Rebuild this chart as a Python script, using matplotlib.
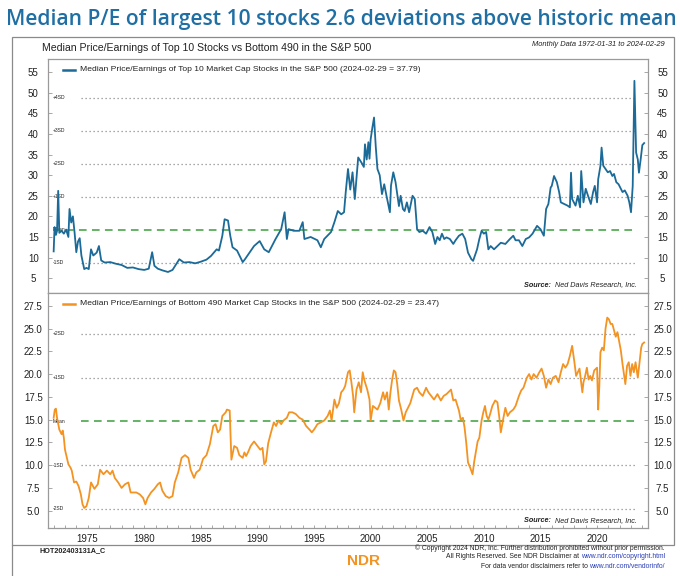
import matplotlib
matplotlib.use("Agg")
import matplotlib.pyplot as plt
import numpy as np
from matplotlib.lines import Line2D
from matplotlib.patches import Rectangle

# palette
BLUE = "#1b6a97"
ORANGE = "#f39322"
GREEN = "#3b9e3b"
GRID = "#8c8c8c"
AXIS = "#9a9a9a"
INK = "#222222"
TITLE = "#1f6fa5"
LINK = "#2b3fb5"

plt.rcParams["font.family"] = ["Liberation Sans Narrow", "Liberation Sans", "DejaVu Sans"]

# --- data (decimal year, P/E) ---
top_years = [
    1972.0, 1972.08, 1972.2, 1972.3, 1972.4, 1972.5, 1972.7, 1972.9, 1973.1, 1973.3,
    1973.4, 1973.55, 1973.7, 1973.85, 1974.0, 1974.15, 1974.3, 1974.45, 1974.7, 1974.9,
    1975.1, 1975.3, 1975.5, 1975.8, 1976.0, 1976.2, 1976.5, 1977.0, 1977.5, 1978.0,
    1978.5, 1979.0, 1979.5, 1980.0, 1980.4, 1980.7, 1980.9, 1981.2, 1981.6, 1982.1,
    1982.5, 1983.1, 1983.5, 1984.0, 1984.5, 1985.0, 1985.5, 1985.9, 1986.4, 1986.6,
    1986.9, 1987.1, 1987.4, 1987.6, 1987.8, 1988.2, 1988.7, 1988.9, 1989.1, 1989.7,
    1990.2, 1990.6, 1991.0, 1991.6, 1992.1, 1992.4, 1992.6, 1992.75, 1993.2, 1993.7,
    1994.0, 1994.15, 1994.7, 1995.3, 1995.6, 1995.9, 1996.5, 1996.8, 1997.1, 1997.4,
    1997.65, 1997.8, 1998.0, 1998.2, 1998.4, 1998.6, 1998.9, 1999.2, 1999.4, 1999.5,
    1999.65, 1999.8, 1999.9, 2000.0, 2000.15, 2000.3, 2000.45, 2000.6, 2000.8, 2001.0,
    2001.2, 2001.4, 2001.7, 2001.8, 2002.0, 2002.2, 2002.5, 2002.65, 2002.85, 2003.0,
    2003.2, 2003.4, 2003.7, 2003.9, 2004.1, 2004.3, 2004.6, 2004.9, 2005.2, 2005.45,
    2005.7, 2005.9, 2006.1, 2006.3, 2006.5, 2006.7, 2007.0, 2007.3, 2007.5, 2007.8,
    2008.1, 2008.35, 2008.6, 2008.9, 2009.05, 2009.4, 2009.6, 2009.8, 2010.0, 2010.2,
    2010.4, 2010.6, 2010.9, 2011.2, 2011.5, 2011.9, 2012.3, 2012.6, 2012.8, 2013.1,
    2013.4, 2013.7, 2014.0, 2014.3, 2014.7, 2015.0, 2015.3, 2015.5, 2015.7, 2015.9,
    2016.0, 2016.2, 2016.45, 2016.65, 2016.8, 2017.1, 2017.4, 2017.6, 2017.7, 2017.8,
    2018.1, 2018.3, 2018.5, 2018.6, 2018.8, 2019.0, 2019.2, 2019.45, 2019.65, 2019.8,
    2020.0, 2020.1, 2020.3, 2020.4, 2020.55, 2020.75, 2020.95, 2021.15, 2021.35, 2021.5,
    2021.7, 2021.9, 2022.05, 2022.25, 2022.45, 2022.7, 2022.85, 2023.0, 2023.15, 2023.3,
    2023.45, 2023.6, 2023.7, 2023.85, 2024.0, 2024.16,
]
top_pe = [
    11.5, 17.4, 15.5, 16.5, 26.2, 16.0, 16.5, 15.8, 16.8, 15.0,
    21.8, 18.5, 20.0, 16.0, 11.3, 13.9, 14.7, 10.5, 7.2, 7.5,
    7.2, 12.0, 10.5, 11.2, 12.8, 9.3, 8.8, 8.9, 8.5, 8.2,
    7.5, 7.6, 7.2, 7.0, 7.3, 11.3, 8.0, 7.3, 6.9, 6.5,
    7.0, 9.6, 8.8, 8.9, 8.6, 9.0, 9.5, 10.4, 12.0, 11.7,
    15.3, 19.3, 19.0, 15.3, 12.5, 11.7, 8.9, 9.6, 10.4, 12.8,
    14.0, 12.0, 11.3, 14.5, 16.9, 21.0, 14.5, 16.9, 16.5, 16.5,
    18.6, 14.5, 15.0, 14.2, 12.5, 14.5, 16.2, 18.6, 21.3, 20.5,
    21.0, 25.9, 31.5, 26.5, 30.7, 24.2, 34.3, 33.0, 32.0, 37.5,
    33.8, 38.0, 34.0, 38.7, 41.5, 44.0, 37.0, 31.5, 30.0, 25.4,
    27.8, 25.0, 21.0, 27.5, 30.7, 28.3, 22.5, 25.0, 21.8, 21.3,
    23.4, 21.0, 25.0, 24.2, 16.9, 16.2, 16.5, 15.8, 17.4, 16.2,
    13.3, 15.0, 14.2, 15.8, 14.5, 14.9, 14.5, 13.3, 14.2, 15.3,
    15.8, 14.5, 11.2, 9.6, 9.2, 12.0, 14.5, 16.5, 15.8, 16.2,
    12.0, 12.8, 12.0, 12.8, 13.6, 13.3, 14.5, 15.3, 14.2, 14.2,
    12.8, 14.5, 14.9, 15.8, 17.7, 16.9, 15.3, 21.8, 23.0, 27.0,
    27.4, 29.8, 28.3, 25.9, 23.4, 23.0, 22.6, 22.2, 30.6, 24.2,
    22.6, 25.0, 22.2, 31.0, 23.4, 26.7, 25.0, 23.0, 25.9, 27.4,
    23.4, 29.0, 32.3, 36.7, 32.3, 31.5, 30.7, 31.0, 29.8, 30.3,
    28.3, 27.8, 27.0, 25.9, 26.3, 25.0, 23.4, 21.0, 27.4, 52.9,
    35.5, 33.8, 30.6, 33.8, 37.3, 37.79,
]

bot_years = [
    1972.0, 1972.1, 1972.2, 1972.3, 1972.5, 1972.7, 1972.8, 1972.9, 1973.0, 1973.3,
    1973.5, 1973.6, 1973.8, 1974.0, 1974.2, 1974.4, 1974.55, 1974.7, 1974.9, 1975.1,
    1975.3, 1975.6, 1975.9, 1976.1, 1976.4, 1976.7, 1977.0, 1977.2, 1977.4, 1977.7,
    1978.0, 1978.3, 1978.6, 1978.8, 1979.3, 1979.6, 1979.9, 1980.1, 1980.3, 1980.6,
    1980.9, 1981.2, 1981.4, 1981.6, 1981.9, 1982.2, 1982.5, 1982.7, 1983.0, 1983.3,
    1983.6, 1983.9, 1984.1, 1984.4, 1984.6, 1984.9, 1985.2, 1985.5, 1985.8, 1986.1,
    1986.3, 1986.5, 1986.7, 1986.9, 1987.2, 1987.3, 1987.55, 1987.7, 1987.95, 1988.2,
    1988.4, 1988.7, 1988.85, 1989.0, 1989.2, 1989.4, 1989.7, 1990.0, 1990.25, 1990.45,
    1990.6, 1990.75, 1990.95, 1991.2, 1991.45, 1991.65, 1991.85, 1992.1, 1992.3, 1992.6,
    1992.8, 1993.1, 1993.4, 1993.7, 1994.0, 1994.3, 1994.6, 1994.8, 1995.0, 1995.3,
    1995.6, 1995.9, 1996.2, 1996.4, 1996.55, 1996.8, 1997.0, 1997.2, 1997.4, 1997.6,
    1997.75, 1998.0, 1998.15, 1998.3, 1998.45, 1998.55, 1998.75, 1998.95, 1999.15, 1999.3,
    1999.45, 1999.7, 1999.9, 2000.0, 2000.2, 2000.4, 2000.6, 2000.85, 2001.1, 2001.25,
    2001.45, 2001.6, 2001.75, 2001.9, 2002.05, 2002.2, 2002.35, 2002.5, 2002.7, 2002.9,
    2003.1, 2003.3, 2003.5, 2003.85, 2004.1, 2004.3, 2004.6, 2004.9, 2005.1, 2005.35,
    2005.6, 2005.9, 2006.2, 2006.45, 2006.7, 2007.1, 2007.3, 2007.5, 2007.8, 2007.95,
    2008.15, 2008.3, 2008.45, 2008.6, 2008.8, 2009.0, 2009.15, 2009.3, 2009.45, 2009.6,
    2009.8, 2009.95, 2010.1, 2010.25, 2010.4, 2010.55, 2010.75, 2011.0, 2011.2, 2011.35,
    2011.5, 2011.7, 2011.9, 2012.1, 2012.3, 2012.6, 2012.8, 2013.1, 2013.3, 2013.5,
    2013.8, 2014.0, 2014.2, 2014.4, 2014.65, 2014.9, 2015.1, 2015.3, 2015.5, 2015.7,
    2015.9, 2016.1, 2016.35, 2016.6, 2016.8, 2017.0, 2017.2, 2017.4, 2017.6, 2017.8,
    2018.0, 2018.15, 2018.3, 2018.45, 2018.7, 2018.8, 2018.95, 2019.1, 2019.25, 2019.4,
    2019.55, 2019.75, 2020.0, 2020.1, 2020.2, 2020.3, 2020.45, 2020.6, 2020.75, 2020.9,
    2021.05, 2021.2, 2021.35, 2021.5, 2021.65, 2021.8, 2021.95, 2022.1, 2022.25, 2022.4,
    2022.5, 2022.65, 2022.8, 2022.95, 2023.1, 2023.25, 2023.4, 2023.6, 2023.75, 2023.9,
    2024.0, 2024.16,
]
bot_pe = [
    15.2, 16.1, 16.2, 15.2, 13.9, 13.4, 13.8, 13.0, 11.7, 10.1,
    9.7, 9.4, 8.1, 8.2, 7.7, 6.8, 5.7, 5.3, 5.5, 6.4,
    8.1, 7.4, 7.9, 9.5, 9.0, 9.4, 9.0, 9.4, 8.6, 8.1,
    7.5, 7.9, 8.1, 7.0, 7.0, 6.8, 6.4, 5.7, 6.4, 7.0,
    7.4, 7.9, 8.1, 7.2, 6.6, 6.4, 6.6, 8.1, 9.2, 10.8,
    11.1, 10.8, 9.5, 8.6, 9.2, 9.5, 10.7, 11.1, 12.3, 14.3,
    14.5, 13.6, 13.9, 15.4, 15.8, 16.1, 16.0, 10.6, 12.1, 11.9,
    11.1, 10.8, 11.4, 11.0, 11.5, 12.1, 12.6, 12.1, 11.7, 11.9,
    10.1, 10.4, 12.4, 13.6, 14.7, 14.3, 14.9, 14.5, 14.9, 15.2,
    15.8, 15.8, 15.6, 15.2, 15.0, 14.3, 13.9, 13.6, 13.9, 14.5,
    14.7, 14.9, 15.4, 16.0, 14.9, 17.2, 16.3, 16.8, 18.0, 18.3,
    18.7, 20.2, 20.4, 19.1, 17.6, 15.8, 18.3, 19.1, 18.0, 20.2,
    19.3, 18.3, 17.2, 14.9, 16.5, 16.3, 16.1, 16.8, 18.0, 17.2,
    18.0, 16.1, 18.0, 19.4, 20.4, 20.2, 18.9, 17.1, 16.1, 14.9,
    15.8, 16.3, 16.8, 18.3, 18.5, 18.0, 17.6, 18.5, 18.0, 17.6,
    17.2, 17.8, 17.1, 17.6, 17.8, 18.3, 17.1, 17.2, 16.0, 15.0,
    15.2, 14.1, 12.4, 10.3, 9.7, 9.0, 10.4, 11.5, 12.6, 13.0,
    14.9, 15.8, 16.5, 15.4, 15.0, 15.6, 16.5, 17.1, 16.9, 15.4,
    13.6, 15.0, 16.3, 15.4, 15.8, 16.1, 16.5, 17.6, 18.2, 18.5,
    19.6, 20.0, 19.4, 20.0, 19.6, 20.2, 20.6, 19.8, 18.5, 19.4,
    18.9, 19.6, 19.8, 19.1, 20.2, 21.1, 20.7, 21.1, 22.0, 23.1,
    21.3, 19.8, 20.2, 20.6, 18.0, 19.1, 19.8, 20.7, 19.4, 19.8,
    19.3, 20.4, 20.7, 16.1, 18.7, 22.4, 22.9, 22.6, 25.0, 26.2,
    26.0, 25.5, 25.5, 24.8, 24.1, 24.6, 23.6, 22.6, 21.1, 19.8,
    18.9, 20.9, 21.3, 19.8, 21.1, 20.2, 21.3, 19.6, 21.3, 22.9,
    23.3, 23.47,
]

# mean / standard-deviation bands
top_mean, top_sd = 16.8, 8.0
bot_mean, bot_sd = 14.8, 4.8
top_bands = [4, 3, 2, 1, -1]
bot_bands = [2, 1, -1, -2]

W, H = 680, 576


def fx(x):
    return x / W


def fy(y):
    return 1 - y / H


def text_run(parts, x_right, y, fontsize, **kw):
    """右揃えで色違いの文字列を並べる (parts = [(text, color, extra kw), ...])"""
    r = fig.canvas.get_renderer()
    x = x_right
    for txt, color, extra in reversed(parts):
        t = fig.text(x, y, txt, fontsize=fontsize, color=color, ha="right",
                     va="center", **extra, **kw)
        bb = t.get_window_extent(renderer=r)
        x = x - bb.width / W


def panel(rect, years, pe, color, mean, sd, bands, ylim, yticks, yfmt,
          legend, mean_from, src_y):
    ax = fig.add_axes(rect)
    ax.set_xlim(1971.5, 2024.5)
    ax.set_ylim(*ylim)
    for k in bands:
        v = mean + k * sd
        ax.plot([1974.4, 2023.45], [v, v], color=GRID, lw=0.9,
                ls=(0, (1, 2.2)), zorder=1)
        ax.text(1971.95, v, f"{k:+d}SD", fontsize=3.6, color=INK,
                va="center", ha="left", zorder=1)
    ax.text(1971.95, mean, "Mean", fontsize=3.6, color=INK, va="center",
            ha="left", zorder=1)
    ax.plot([mean_from, 2023.45], [mean, mean], color=GREEN, lw=1.1,
            ls=(0, (5, 3.5)), zorder=2)
    ax.plot(years, pe, color=color, lw=1.3, zorder=3,
            solid_joinstyle="round")
    ax.set_yticks(yticks)
    ax.tick_params(axis="y", which="both", direction="in", left=True,
                   right=True, labelleft=True, labelright=True, length=3,
                   width=0.6, color=AXIS, labelsize=7, pad=10.5,
                   labelcolor=INK)
    for t in ax.yaxis.get_major_ticks():
        t.label1.set_ha("center")
        t.label2.set_ha("center")
    ax.set_yticklabels([yfmt.format(v) for v in yticks])
    for s in ax.spines.values():
        s.set_color(AXIS)
        s.set_linewidth(0.9)
    ax.add_line(Line2D([0.025, 0.045], [0.955, 0.955], color=color, lw=1.8,
                       transform=ax.transAxes))
    ax.text(0.053, 0.955, legend, transform=ax.transAxes, fontsize=6.1,
            color=INK, va="center", ha="left")
    # "Source:" と "Ned Davis Research, Inc." を右下に並べる
    text_run([("Source:  ", INK, {"fontweight": "bold", "style": "italic"}),
              ("Ned Davis Research, Inc.", INK, {"style": "italic"})],
             fx(637), fy(src_y), 5.2)
    return ax


fig = plt.figure(figsize=(W / 100, H / 100), dpi=100)
fig.patch.set_facecolor("white")

# outer frame
fig.add_artist(Rectangle((fx(12), fy(545)), fx(674) - fx(12), fy(37) - fy(545),
                         transform=fig.transFigure, fill=False,
                         edgecolor="#8a8a8a", lw=0.9))
fig.add_artist(Line2D([fx(12), fx(12)], [fy(545), 0], color="#8a8a8a",
                      lw=0.9, transform=fig.transFigure))

fig.text(fx(341), fy(19), "Median P/E of largest 10 stocks 2.6 deviations above historic mean",
         fontsize=15.1, color=TITLE, ha="center", va="center",
         family=["Open Sans", "DejaVu Sans"], fontweight="semibold")
fig.text(fx(42), fy(48), "Median Price/Earnings of Top 10 Stocks vs Bottom 490 in the S&P 500",
         fontsize=7.6, color=INK, ha="left", va="center")
fig.text(fx(665), fy(44), "Monthly Data 1972-01-31 to 2024-02-29",
         fontsize=5.4, color=INK, ha="right", va="center", style="italic")

ax1 = panel([fx(48), fy(293), fx(648) - fx(48), fy(59) - fy(293)],
            top_years, top_pe, BLUE, top_mean, top_sd, top_bands,
            (1.4, 58.2), list(range(5, 60, 5)), "{:.0f}",
            "Median Price/Earnings of Top 10 Market Cap Stocks in the S&P 500 (2024-02-29 = 37.79)",
            1971.95, 285)
ax1.set_xticks([])

ax2 = panel([fx(48), fy(528), fx(648) - fx(48), fy(293) - fy(528)],
            bot_years, bot_pe, ORANGE, bot_mean, bot_sd, bot_bands,
            (3.1, 28.9), [5.0, 7.5, 10.0, 12.5, 15.0, 17.5, 20.0, 22.5, 25.0, 27.5],
            "{:.1f}",
            "Median Price/Earnings of Bottom 490 Market Cap Stocks in the S&P 500 (2024-02-29 = 23.47)",
            1974.4, 521)
ax2.set_xticks(list(range(1975, 2021, 5)))
ax2.set_xticks(list(range(1972, 2025)), minor=True)
ax2.tick_params(axis="x", which="both", direction="in", length=2.5,
                width=0.6, color=AXIS, labelsize=7, pad=4, labelcolor=INK)

# footer
fig.text(fx(40), fy(551), "HOT202403131A_C", fontsize=5.2, fontweight="bold",
         color=INK, ha="left", va="center")
fig.text(fx(364), fy(561), "NDR", fontsize=11, fontweight="bold",
         color=ORANGE, ha="center", va="center",
         family=["Liberation Sans", "DejaVu Sans"])
text_run([("\u00a9 Copyright 2024 NDR, Inc. Further distribution prohibited without prior permission.", INK, {})],
         fx(665), fy(548), 4.9)
text_run([("All Rights Reserved. See NDR Disclaimer at ", INK, {}),
          ("www.ndr.com/copyright.html", LINK, {})],
         fx(665), fy(557), 4.9)
text_run([("For data vendor disclaimers refer to ", INK, {}),
          ("www.ndr.com/vendorinfo/", LINK, {})],
         fx(665), fy(566), 4.9)

fig.savefig("out.png", dpi=100, facecolor="white")
